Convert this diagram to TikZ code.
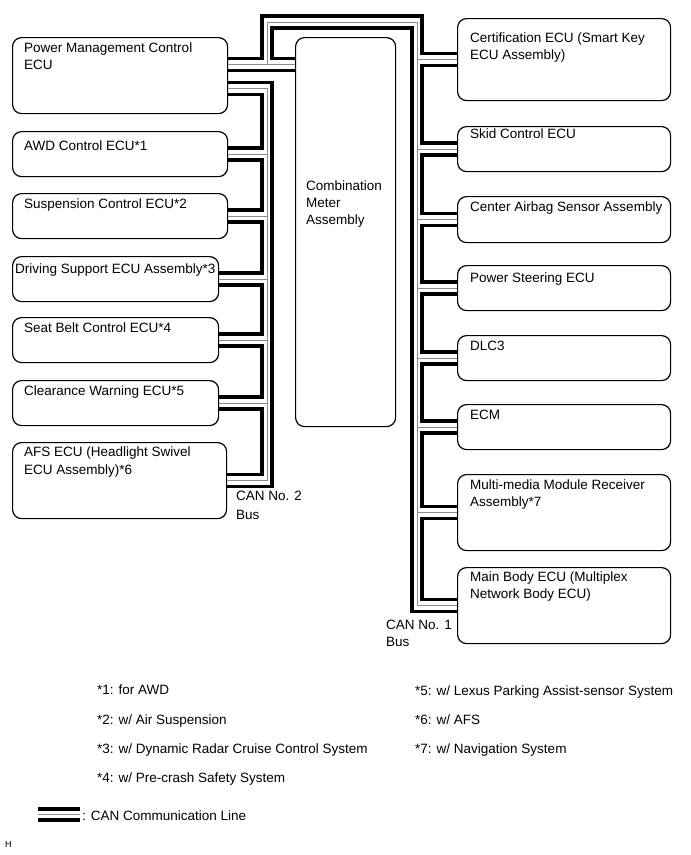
\documentclass[tikz,border=0pt]{standalone}
\usepackage{fontspec}
\setmainfont{Liberation Sans}
\usetikzlibrary{calc}
\begin{document}
\begin{tikzpicture}[x=1pt,y=-1pt,
  ecubox/.style={draw, line width=1.2pt, rounded corners=9pt, inner sep=0pt, anchor=north west},
  lbl/.style={anchor=base west, inner sep=0pt, font=\fontsize{13.5}{16}\selectfont},
  small/.style={anchor=base west, inner sep=0pt, font=\fontsize{9}{11}\selectfont},
  canthick/.style={line width=3.3pt, line join=miter},
  canthin/.style={line width=0.9pt, black!45},
]
\useasboundingbox (0,0) rectangle (691,855);

% ---- left boxes
\node[ecubox, minimum width=215pt, minimum height=76pt] (pm) at (12,37) {};
\node[ecubox, minimum width=215pt, minimum height=45pt] (awd) at (12,131) {};
\node[ecubox, minimum width=215pt, minimum height=45pt] (susp) at (12,193) {};
\node[ecubox, minimum width=206pt, minimum height=45pt] (drive) at (12,256) {};
\node[ecubox, minimum width=206pt, minimum height=45pt] (seat) at (12,317) {};
\node[ecubox, minimum width=206pt, minimum height=45pt] (clear) at (12,380) {};
\node[ecubox, minimum width=214pt, minimum height=76pt] (afs) at (12,442) {};
% ---- meter
\node[ecubox, minimum width=100pt, minimum height=389pt] (meter) at (295,37) {};
% ---- right boxes
\node[ecubox, minimum width=213pt, minimum height=82pt] (cert) at (457,18) {};
\node[ecubox, minimum width=213pt, minimum height=45pt] (skid) at (457,126) {};
\node[ecubox, minimum width=213pt, minimum height=46pt] (airbag) at (457,196) {};
\node[ecubox, minimum width=213pt, minimum height=45pt] (psteer) at (457,265) {};
\node[ecubox, minimum width=213pt, minimum height=45pt] (dlc) at (457,335) {};
\node[ecubox, minimum width=213pt, minimum height=45pt] (ecm) at (457,404) {};
\node[ecubox, minimum width=213pt, minimum height=76pt] (mm) at (457,474) {};
\node[ecubox, minimum width=213pt, minimum height=76pt] (mbody) at (457,567) {};

% ---- texts
\node[lbl] (pmT1) at (24,52) {Power Management Control};
\node[lbl] (pmT2) at (24,69) {ECU};
\node[lbl] (awdT) at (24,150) {AWD Control ECU*1};
\node[lbl] (suspT) at (24,208) {Suspension Control ECU*2};
\node[lbl] (driveT) at (15,273) {Driving Support ECU Assembly*3};
\node[lbl] (seatT) at (24,332) {Seat Belt Control ECU*4};
\node[lbl] (clearT) at (24,395) {Clearance Warning ECU*5};
\node[lbl] (afsT1) at (24,456) {AFS ECU (Headlight Swivel};
\node[lbl] (afsT2) at (24,474) {ECU Assembly)*6};
\node[lbl] (meterT1) at (306,190) {Combination};
\node[lbl] (meterT2) at (306,207) {Meter};
\node[lbl] (meterT3) at (306,224) {Assembly};
\node[lbl] (certT1) at (470,42) {Certification ECU (Smart Key};
\node[lbl] (certT2) at (470,59) {ECU Assembly)};
\node[lbl] (skidT) at (470,138) {Skid Control ECU};
\node[lbl] (airbagT) at (470,211) {Center Airbag Sensor Assembly};
\node[lbl] (psteerT) at (470,282) {Power Steering ECU};
\node[lbl] (dlcT) at (470,350) {DLC3};
\node[lbl] (ecmT) at (470,419) {ECM};
\node[lbl] (mmT1) at (470,489) {Multi-media Module Receiver};
\node[lbl] (mmT2) at (470,506) {Assembly*7};
\node[lbl] (mbodyT1) at (470,581) {Main Body ECU (Multiplex};
\node[lbl] (mbodyT2) at (470,598) {Network Body ECU)};
\node[lbl] (can2a) at (236,500) {CAN No. 2};
\node[lbl] (can2b) at (236,519) {Bus};
\node[lbl] (can1a) at (386,629) {CAN No. 1};
\node[lbl] (can1b) at (386,646) {Bus};
\node[lbl] (n1) at (97,694) {*1: for AWD};
\node[lbl] (n2) at (97,724) {*2: w/ Air Suspension};
\node[lbl] (n3) at (97,753) {*3: w/ Dynamic Radar Cruise Control System};
\node[lbl] (n4) at (97,782) {*4: w/ Pre-crash Safety System};
\node[lbl] (n5) at (415,695) {*5: w/ Lexus Parking Assist-sensor System};
\node[lbl] (n6) at (415,724) {*6: w/ AFS};
\node[lbl] (n7) at (415,753) {*7: w/ Navigation System};
\node[lbl] (legT) at (82,820) {: CAN Communication Line};
\node[small] (hT) at (5,847) {H};

% ---- branch coordinates
\foreach \bx in {awd,susp,drive,seat,clear,afs} {
  \coordinate (\bx U) at ($(\bx.east)+(0,-6)$);
  \coordinate (\bx M) at (\bx.east);
  \coordinate (\bx L) at ($(\bx.east)+(0,6)$);
}
\foreach \bx in {cert,skid,airbag,psteer,dlc,ecm,mm,mbody} {
  \coordinate (\bx U) at ($(\bx.west)+(0,-6)$);
  \coordinate (\bx M) at (\bx.west);
  \coordinate (\bx L) at ($(\bx.west)+(0,6)$);
}
\coordinate (pmAU) at ($(pm.east)+(0,-17)$);
\coordinate (pmAM) at ($(pm.east)+(0,-11)$);
\coordinate (pmAL) at ($(pm.east)+(0,-5)$);
\coordinate (pmBU) at ($(pm.east)+(0,7)$);
\coordinate (pmBM) at ($(pm.east)+(0,13)$);
\coordinate (pmBL) at ($(pm.east)+(0,19)$);
% bus columns / top corners
\coordinate (L1) at (262,16);
\coordinate (L2) at (267,22);
\coordinate (L3) at (272,28);
\coordinate (R1) at (412,28);
\coordinate (R2) at (417,22);
\coordinate (R3) at (422,16);

% ---- top part: PM <-> meter and loops to right bus
\draw[canthick] (pmAU) -| (L1) -- (R3) |- (certU);
\draw[canthin] (pmAM) -- (pmAM -| meter.west);
\draw[canthin] (pmAM -| L2) -- (L2) -- (R2) -- (R2 |- mbodyM) -- (mbodyM);
\draw[canthick] (pmAU -| meter.west) -- (pmAU -| L3) -- (L3) -- (R1) -- (R1 |- mbodyL) -- (mbodyL);
\draw[canthick] (pmAL) -- (pmAL -| meter.west);

% ---- right bus
\foreach \ax/\nx in {cert/skid,skid/airbag,airbag/psteer,psteer/dlc,dlc/ecm,ecm/mm,mm/mbody}
  \draw[canthick] (\ax L) -| (R3 |- \nx U) -- (\nx U);
\foreach \bx in {cert,skid,airbag,psteer,dlc,ecm,mm}
  \draw[canthin] (R2 |- \bx M) -- (\bx M);

% ---- left bus
\draw[canthick] (pmBU) -| (L3 |- afsL) -- (afsL);
\draw[canthin] (pmBM) -| (L2 |- afsM) -- (afsM);
\draw[canthick] (pmBL) -| (L1 |- awdU) -- (awdU);
\foreach \ax/\nx in {awd/susp,susp/drive,drive/seat,seat/clear,clear/afs}
  \draw[canthick] (\ax L) -| (L1 |- \nx U) -- (\nx U);
\foreach \bx in {awd,susp,drive,seat,clear}
  \draw[canthin] (L2 |- \bx M) -- (\bx M);

% ---- legend symbol
\coordinate (lgA) at (38,809);
\coordinate (lgB) at (80,809);
\draw[canthick] (lgA) -- (lgB);
\draw[canthin] ($(lgA)+(0,5)$) -- ($(lgB)+(0,5)$);
\draw[canthick] ($(lgA)+(0,11)$) -- ($(lgB)+(0,11)$);
\end{tikzpicture}
\end{document}
